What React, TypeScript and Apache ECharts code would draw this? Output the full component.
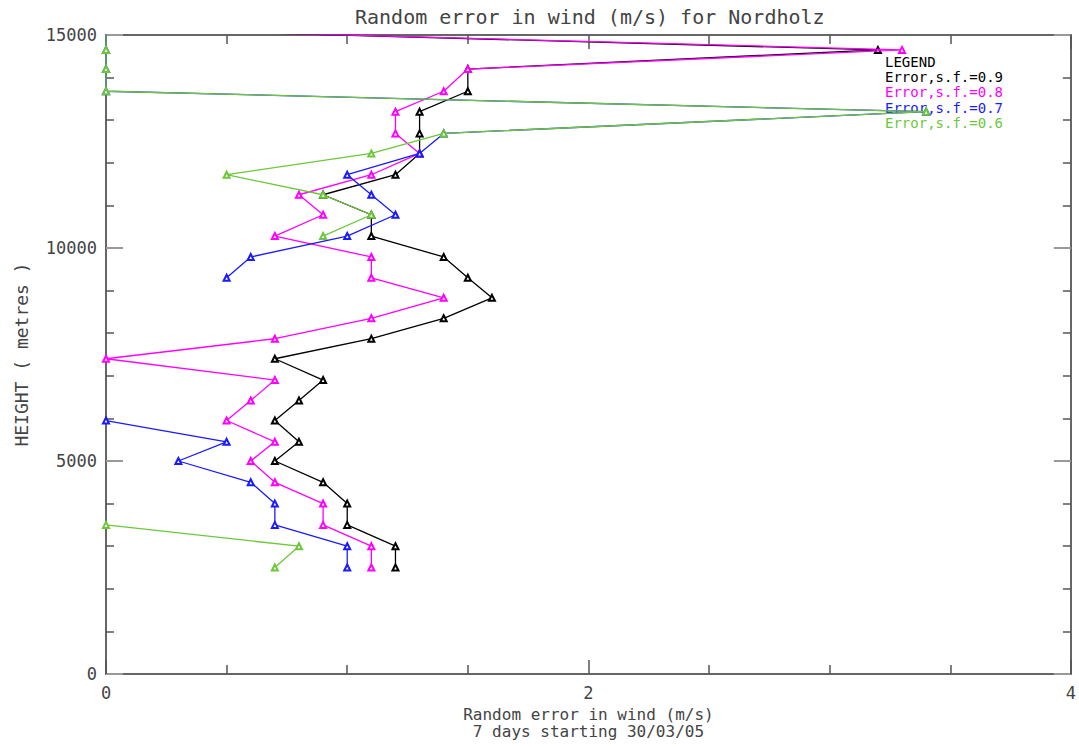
import React, { useEffect, useRef } from "react";
import * as echarts from "echarts";

// Heights of the sounding levels (m)
const heights = [2500, 3000, 3500, 4000, 4500, 5000, 5450, 5950, 6420, 6900, 7400, 7870, 8350, 8830, 9300, 9790, 10280, 10780, 11250, 11720, 12220, 12690, 13200, 13680, 14200, 14650, 15150];

// Random error in wind (m/s) for each scale factor
const errSf09 = [1.2, 1.2, 1.0, 1.0, 0.9, 0.7, 0.8, 0.7, 0.8, 0.9, 0.7, 1.1, 1.4, 1.6, 1.5, 1.4, 1.1, 1.1, 0.9, 1.2, 1.3, 1.3, 1.3, 1.5, 1.5, 3.2, 0];
const errSf08 = [1.1, 1.1, 0.9, 0.9, 0.7, 0.6, 0.7, 0.5, 0.6, 0.7, 0, 0.7, 1.1, 1.4, 1.1, 1.1, 0.7, 0.9, 0.8, 1.1, 1.3, 1.2, 1.2, 1.4, 1.5, 3.3, 0];
const errSf07 = [1.0, 1.0, 0.7, 0.7, 0.6, 0.3, 0.5, 0, null, null, null, null, null, null, 0.5, 0.6, 1.0, 1.2, 1.1, 1.0, 1.3, 1.4, 3.4, 0, 0, 0, 0];
const errSf06 = [0.7, 0.8, 0, null, null, null, null, null, null, null, null, null, null, null, null, null, 0.9, 1.1, 0.9, 0.5, 1.1, 1.4, 3.4, 0, 0, 0, 0];

const seriesNames = ["Error,s.f.=0.9", "Error,s.f.=0.8", "Error,s.f.=0.7", "Error,s.f.=0.6"];
const seriesColors = ["#000000", "#ff00ff", "#1a1aff", "#6cc83a"];

const titleText = "Random error in wind (m/s) for Nordholz";
const xName = "Random error in wind (m/s)\n7 days starting 30/03/05";
const yName = "HEIGHT ( metres )";

const FONT = "'DejaVu Sans Mono', monospace";

export default function App() {
  const ref = useRef<HTMLDivElement>(null);

  useEffect(() => {
    const chart = echarts.init(ref.current!, null, { renderer: "svg" });
    const all = [errSf09, errSf08, errSf07, errSf06];

    const axisLine = { show: true, onZero: false, lineStyle: { color: "#666", width: 2 } };

    const xBase: any = {
      type: "value",
      min: 0,
      max: 4,
      interval: 2,
      splitLine: { show: false },
      axisLine,
      axisTick: { show: true, inside: true, length: 14, lineStyle: { color: "#555", width: 1.5 } },
      minorTick: { show: true, splitNumber: 4, length: 9, lineStyle: { color: "#555", width: 1.5 } },
    };
    const yBase: any = {
      type: "value",
      min: 0,
      max: 15000,
      interval: 5000,
      splitLine: { show: false },
      axisLine,
      axisTick: { show: true, inside: true, length: 17, lineStyle: { color: "#999", width: 2 } },
      minorTick: { show: true, splitNumber: 5, length: 8, lineStyle: { color: "#555", width: 1.5 } },
    };

    chart.setOption({
      animation: false,
      backgroundColor: "#ffffff",
      title: {
        text: titleText,
        left: 355,
        top: 7,
        padding: 0,
        textStyle: { fontFamily: FONT, fontSize: 20, fontWeight: "normal", color: "#444" },
      },
      grid: { left: 106, right: 6, top: 35, bottom: 73, containLabel: false },
      legend: {
        orient: "vertical",
        left: 880,
        top: 69,
        padding: 0,
        itemGap: 0,
        itemWidth: 0,
        itemHeight: 0,
        selectedMode: false,
        textStyle: { fontFamily: FONT, fontSize: 14, lineHeight: 15.5 },
        data: seriesNames.map((n, i) => ({ name: n, icon: "rect", textStyle: { color: seriesColors[i] } })),
      },
      graphic: [
        {
          type: "text",
          left: 885,
          top: 55,
          style: { text: "LEGEND", fill: "#000", font: `14px ${FONT}` },
        },
      ],
      xAxis: [
        {
          ...xBase,
          position: "bottom",
          name: xName,
          nameLocation: "middle",
          nameGap: 32,
          nameTextStyle: { fontFamily: FONT, fontSize: 16, lineHeight: 17, color: "#444" },
          axisLabel: { show: true, margin: 10, fontFamily: FONT, fontSize: 17, color: "#444", formatter: (v: number) => String(v) },
        },
        {
          ...xBase,
          position: "top",
          axisLabel: { show: false },
        },
      ],
      yAxis: [
        {
          ...yBase,
          position: "left",
          name: yName,
          nameLocation: "middle",
          nameGap: 76,
          nameTextStyle: { fontFamily: FONT, fontSize: 18, color: "#444" },
          axisLabel: { show: true, margin: 9, fontFamily: FONT, fontSize: 17, color: "#444", formatter: (v: number) => String(v) },
        },
        {
          ...yBase,
          position: "right",
          axisLabel: { show: false },
        },
      ],
      series: all.map((vals, i) => ({
        name: seriesNames[i],
        type: "line",
        xAxisIndex: 0,
        yAxisIndex: 0,
        data: heights.map((h, k) => [vals[k] === null ? null : vals[k], h]),
        connectNulls: false,
        clip: true,
        symbol: "emptyTriangle",
        symbolSize: 6,
        color: seriesColors[i],
        lineStyle: { color: seriesColors[i], width: 1.3 },
        itemStyle: { color: seriesColors[i], borderWidth: 1.5 },
        z: 2 + i,
      })),
    });

    return () => chart.dispose();
  }, []);

  return <div ref={ref} style={{ position: "fixed", left: 0, top: 0, width: 1079, height: 747 }} />;
}
